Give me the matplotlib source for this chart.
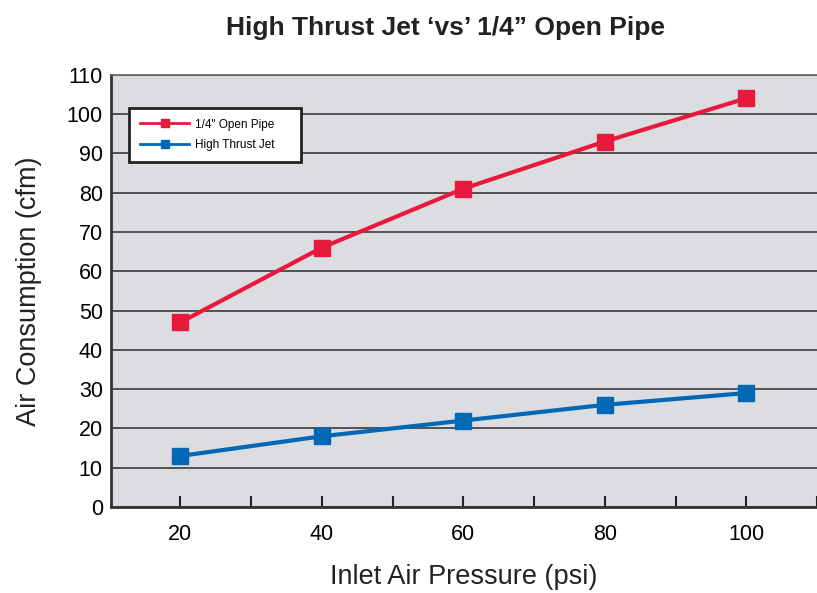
import numpy as np
import matplotlib.pyplot as plt

plt.rcParams['font.family'] = ['Liberation Sans', 'DejaVu Sans']

#%% Data
pressure = [20, 40, 60, 80, 100]
open_pipe = [47, 66, 81, 93, 104]
thrust_jet = [13, 18, 22, 26, 29]

x_ticks = [20, 30, 40, 50, 60, 70, 80, 90, 100, 110]
x_labels = ['20', '', '40', '', '60', '', '80', '', '100', '']
y_ticks = list(range(0, 120, 10))

red = '#e8193c'
blue = '#0068b4'

#%% Plot
fig = plt.figure(figsize=(8.17, 5.93), dpi=100)
ax = fig.add_axes([0.136, 0.145, 0.864, 0.729])
ax.set_facecolor('#dcdde0')

ax.plot(pressure, open_pipe, color=red, lw=3, marker='s', ms=11,
        label='1/4" Open Pipe', zorder=3)
ax.plot(pressure, thrust_jet, color=blue, lw=3, marker='s', ms=11,
        label='High Thrust Jet', zorder=3)

ax.set_xlim(10.2, 109.1)
ax.set_ylim(0, 110)
ax.set_yticks(y_ticks)
ax.set_xticks(x_ticks)
ax.set_xticklabels(x_labels)
ax.grid(axis='y', color='#3a3a3a', lw=1.2)
ax.set_axisbelow(True)

ax.tick_params(axis='x', direction='in', length=8, width=1.5, color='#222222',
               labelsize=15.5, pad=12)
ax.tick_params(axis='y', length=0, labelsize=15.5, pad=6)

for s in ['left', 'bottom']:
    ax.spines[s].set_linewidth(2)
    ax.spines[s].set_color('#333333')
ax.spines['top'].set_color('#666666')
ax.spines['top'].set_linewidth(1.2)
ax.spines['right'].set_visible(False)

ax.set_xlabel('Inlet Air Pressure (psi)', fontsize=19.5, labelpad=14, color='#222222')
ax.set_ylabel('Air Consumption (cfm)', fontsize=19.5, labelpad=18, color='#222222')

leg = ax.legend(loc='upper left', bbox_to_anchor=(0.0255, 0.805, 0.2436, 0.118),
                mode='expand', fontsize=8.5,
                fancybox=False, framealpha=1, edgecolor='#222222',
                handlelength=4.2, handletextpad=0.5, markerscale=0.55,
                borderpad=0.9, borderaxespad=0, labelspacing=0.75)
leg.get_frame().set_linewidth(2)
for line in leg.get_lines():
    line.set_linewidth(2)

fig.text(0.545, 0.952, 'High Thrust Jet \u2018vs\u2019 1/4\u201d Open Pipe',
         ha='center', va='center', fontsize=19, fontweight='bold', color='#222222')

fig.savefig('out.png', dpi=100)
